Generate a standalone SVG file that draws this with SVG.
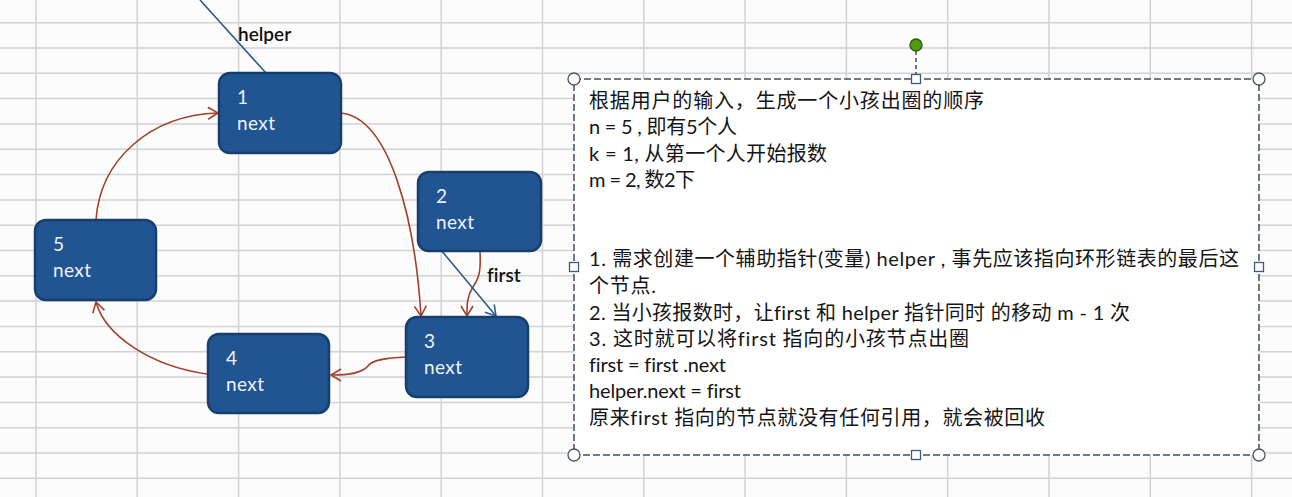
<svg xmlns="http://www.w3.org/2000/svg" width="1292" height="497" viewBox="0 0 1292 497">
<style>
text{font-variant-ligatures:none}
.grid line{stroke:#d2d2d2;stroke-width:1.5}
.node rect{fill:#215592;stroke:#173f6e;stroke-width:2.5}
.node text{fill:#eef3f9;font-family:Lato,"Open Sans","Liberation Sans",sans-serif;font-size:19px}
.red{fill:none;stroke:#a3412b;stroke-width:1.6}
.blue{fill:none;stroke:#2f5b8c;stroke-width:1.6}
.lbl{fill:#111;font-family:Lato,"Liberation Sans",sans-serif;font-size:19px;font-weight:600}
.box text{fill:#151515;font-family:Lato,"Liberation Sans","Noto Sans CJK SC",sans-serif;font-size:20px}
.hc{fill:#fff;stroke:#4a5566;stroke-width:1.3}
.hs{fill:#fff;stroke:#3d5a80;stroke-width:1.3}
</style>
<defs>
<marker id="ar" markerUnits="userSpaceOnUse" markerWidth="14" markerHeight="14" refX="11" refY="7" orient="auto" viewBox="0 0 14 14">
<path d="M1,1 L11,7 L1,13" fill="none" stroke="#a3412b" stroke-width="1.6"/>
</marker>
<marker id="ab" markerUnits="userSpaceOnUse" markerWidth="14" markerHeight="14" refX="11" refY="7" orient="auto" viewBox="0 0 14 14">
<path d="M1,1 L11,7 L1,13" fill="none" stroke="#2f5b8c" stroke-width="1.6"/>
</marker>
</defs>
<rect x="0" y="0" width="1292" height="497" fill="#fcfcfc"/>
<g class="grid">
<line x1="36" y1="0" x2="36" y2="497"/>
<line x1="137.3" y1="0" x2="137.3" y2="497"/>
<line x1="238.6" y1="0" x2="238.6" y2="497"/>
<line x1="339.9" y1="0" x2="339.9" y2="497"/>
<line x1="441.2" y1="0" x2="441.2" y2="497"/>
<line x1="542.5" y1="0" x2="542.5" y2="497"/>
<line x1="643.8" y1="0" x2="643.8" y2="497"/>
<line x1="745.1" y1="0" x2="745.1" y2="497"/>
<line x1="846.4" y1="0" x2="846.4" y2="497"/>
<line x1="947.7" y1="0" x2="947.7" y2="497"/>
<line x1="1049" y1="0" x2="1049" y2="497"/>
<line x1="1150.3" y1="0" x2="1150.3" y2="497"/>
<line x1="1251.6" y1="0" x2="1251.6" y2="497"/>
<line x1="0" y1="22.7" x2="1292" y2="22.7"/>
<line x1="0" y1="48" x2="1292" y2="48"/>
<line x1="0" y1="73.3" x2="1292" y2="73.3"/>
<line x1="0" y1="98.6" x2="1292" y2="98.6"/>
<line x1="0" y1="124" x2="1292" y2="124"/>
<line x1="0" y1="149.3" x2="1292" y2="149.3"/>
<line x1="0" y1="174.6" x2="1292" y2="174.6"/>
<line x1="0" y1="200" x2="1292" y2="200"/>
<line x1="0" y1="225.2" x2="1292" y2="225.2"/>
<line x1="0" y1="250.5" x2="1292" y2="250.5"/>
<line x1="0" y1="275.8" x2="1292" y2="275.8"/>
<line x1="0" y1="301" x2="1292" y2="301"/>
<line x1="0" y1="326.5" x2="1292" y2="326.5"/>
<line x1="0" y1="351.8" x2="1292" y2="351.8"/>
<line x1="0" y1="377" x2="1292" y2="377"/>
<line x1="0" y1="402.4" x2="1292" y2="402.4"/>
<line x1="0" y1="427.7" x2="1292" y2="427.7"/>
<line x1="0" y1="453" x2="1292" y2="453"/>
<line x1="0" y1="478.3" x2="1292" y2="478.3"/>
</g>
<g id="connectors">
<path class="blue" d="M200,0 L266,73"/>
<path class="red" d="M341,113 C390,118 415,220 421,316" marker-end="url(#ar)"/>
<path class="red" d="M480,251 C481,272 479,278 473,287 C467,296 467,304 467,316" marker-end="url(#ar)"/>
<path class="blue" d="M441,250 L496,316" marker-end="url(#ab)"/>
<path class="red" d="M406,357 C385,358 372,360 368,366 C362,373 350,375 331,375" marker-end="url(#ar)"/>
<path class="red" d="M207,374 C150,366 105,335 96,302" marker-end="url(#ar)"/>
<path class="red" d="M96,220 C100,160 150,115 218,113" marker-end="url(#ar)"/>
<text class="lbl" x="238" y="41">helper</text>
<text class="lbl" x="487" y="282">first</text>
</g>
<g id="node1" class="node"><rect x="219" y="73" width="122" height="80" rx="11"/><text x="237" y="104">1</text><text x="237" y="130" textLength="38">next</text></g>
<g id="node2" class="node"><rect x="418" y="172" width="123" height="79" rx="11"/><text x="436" y="203">2</text><text x="436" y="229" textLength="38">next</text></g>
<g id="node3" class="node"><rect x="406" y="317" width="122" height="80" rx="11"/><text x="424" y="348">3</text><text x="424" y="374" textLength="38">next</text></g>
<g id="node4" class="node"><rect x="208" y="334" width="121" height="79" rx="11"/><text x="226" y="365">4</text><text x="226" y="391" textLength="38">next</text></g>
<g id="node5" class="node"><rect x="35" y="220" width="121" height="80" rx="11"/><text x="53" y="251">5</text><text x="53" y="277" textLength="38">next</text></g>
<g id="notebox" class="box">
<rect x="574" y="79" width="685" height="376" fill="#fff" stroke="#3d4f66" stroke-width="1.5" stroke-dasharray="7,3"/>
<line x1="916" y1="51" x2="916" y2="74" stroke="#3d4f66" stroke-width="1.5" stroke-dasharray="4,3"/>
<circle cx="916" cy="45" r="6" fill="#4f9a10" stroke="#2d5a0c" stroke-width="1.3"/>
<circle class="hc" cx="574" cy="79" r="6"/>
<circle class="hc" cx="1259" cy="79" r="6"/>
<circle class="hc" cx="574" cy="455" r="6"/>
<circle class="hc" cx="1259" cy="455" r="6"/>
<rect class="hs" x="911.5" y="74.5" width="9" height="9"/>
<rect class="hs" x="911.5" y="450.5" width="9" height="9"/>
<rect class="hs" x="569.5" y="262.5" width="9" height="9"/>
<rect class="hs" x="1254.5" y="262.5" width="9" height="9"/>
<text x="589" y="108" textLength="395" lengthAdjust="spacing">根据用户的输入，生成一个小孩出圈的顺序</text>
<text x="589" y="134" textLength="148" lengthAdjust="spacing">n = 5 , 即有5个人</text>
<text x="589" y="161" textLength="238" lengthAdjust="spacing">k = 1, 从第一个人开始报数</text>
<text x="589" y="187" textLength="106" lengthAdjust="spacing">m = 2, 数2下</text>
<text x="589" y="266" textLength="650" lengthAdjust="spacing">1.  需求创建一个辅助指针(变量) helper , 事先应该指向环形链表的最后这</text>
<text x="589" y="293" textLength="67" lengthAdjust="spacing">个节点.</text>
<text x="589" y="320" textLength="541" lengthAdjust="spacing">2.  当小孩报数时，让first 和 helper 指针同时 的移动  m  - 1 次</text>
<text x="589" y="346" textLength="380" lengthAdjust="spacing">3.  这时就可以将first 指向的小孩节点出圈</text>
<text x="589" y="372" textLength="137" lengthAdjust="spacing">first = first .next</text>
<text x="589" y="398" textLength="152" lengthAdjust="spacing">helper.next = first</text>
<text x="589" y="425" textLength="456" lengthAdjust="spacing">原来first 指向的节点就没有任何引用，就会被回收</text>
</g>
</svg>
